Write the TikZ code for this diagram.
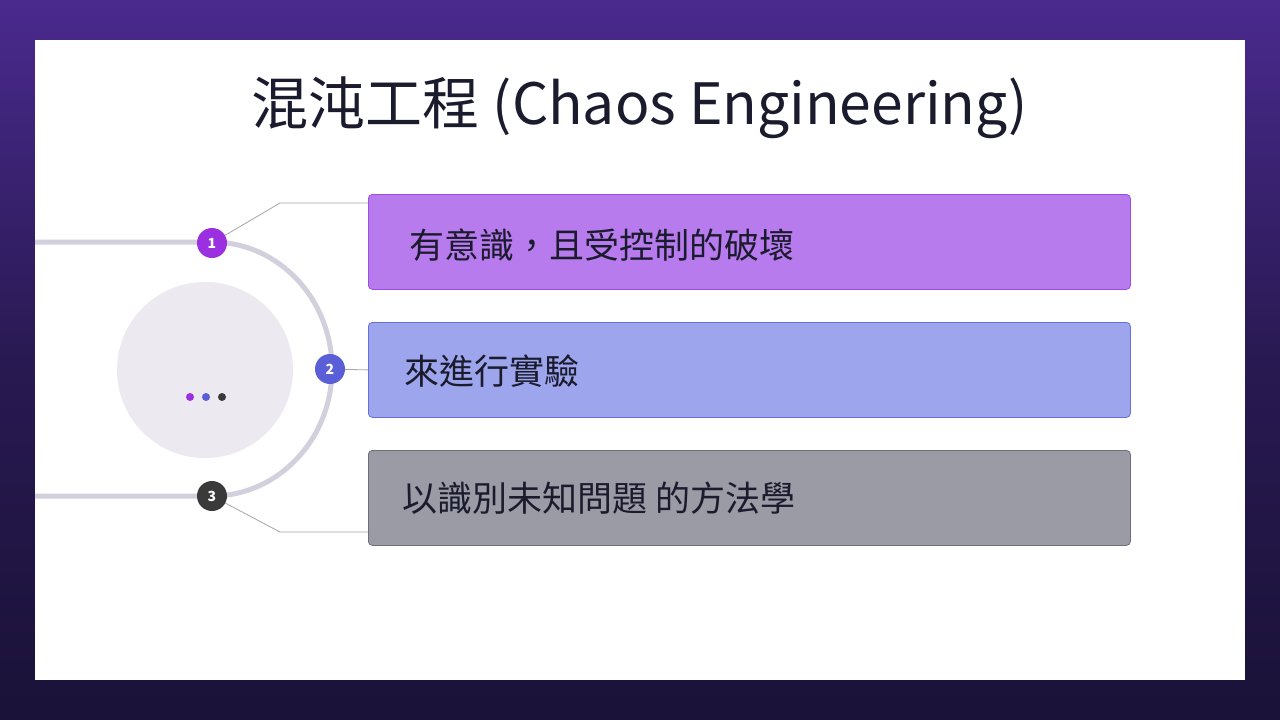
\documentclass[tikz,border=0pt]{standalone}
\usepackage{fontspec}
\setmainfont{Noto Sans CJK TC}
\definecolor{bgA}{HTML}{1A1238}
\definecolor{bgB}{HTML}{4A2A8E}
\definecolor{trk}{HTML}{D2D0DD}
\definecolor{ink}{HTML}{1B1B2E}
\definecolor{cg}{HTML}{ECE9F0}
\definecolor{fA}{HTML}{B87BEE}\definecolor{dA}{HTML}{9A4DE0}
\definecolor{fB}{HTML}{9DA5EC}\definecolor{dB}{HTML}{6670DD}
\definecolor{fC}{HTML}{9A9BA5}\definecolor{dC}{HTML}{6E6E78}
\definecolor{mA}{HTML}{9B30E0}\definecolor{mB}{HTML}{5A5FD8}\definecolor{mC}{HTML}{3A3A3A}
\begin{document}
\begin{tikzpicture}[x=1pt,y=-1pt,
 box/.style={draw,line width=0.8pt,rounded corners=4pt},
 btxt/.style={anchor=west,font=\fontsize{35}{40}\selectfont,text=ink},
 mk/.style={circle,minimum size=30pt,inner sep=0pt,text=white,font=\fontsize{14}{16}\selectfont\bfseries},
 con/.style={draw=gray!70,line width=0.8pt}]
\useasboundingbox (0,0) rectangle (1280,720);
\shade[top color=bgB,bottom color=bgA,middle color=bgA!70!bgB] (0,0) rectangle (1280,720);
\fill[white] (35,40) rectangle (1245,680);
\node[font=\fontsize{57}{64}\selectfont,text=ink] (title) at (640,108) {混沌工程 (Chaos Engineering)};
% track
\draw[trk,line width=5pt] (35,242) -- (212,242) arc[start angle=-90,end angle=90,x radius=120,y radius=127] -- (35,496);
\fill[cg] (205,370) circle[radius=88];
\fill[mA] (190,397) circle[radius=4];
\fill[mB] (206,397) circle[radius=4];
\fill[mC] (222,397) circle[radius=4];
% boxes
\node[box,fill=fA,draw=dA,minimum width=762pt,minimum height=95pt,anchor=north west] (b1) at (368,194) {};
\node[box,fill=fB,draw=dB,minimum width=762pt,minimum height=95pt,anchor=north west] (b2) at (368,322) {};
\node[box,fill=fC,draw=dC,minimum width=762pt,minimum height=95pt,anchor=north west] (b3) at (368,450) {};
\node[btxt] (t1) at (406,245) {有意識，且受控制的破壞};
\node[btxt] (t2) at (401,371) {來進行實驗};
\node[btxt] (t3) at (399,498) {以識別未知問題 的方法學};
% markers
\coordinate (c1) at (368,203);
\coordinate (c3) at (368,532);
\node[mk,fill=mA] (m1) at (212,243) {1};
\node[mk,fill=mB] (m2) at (330,369) {2};
\node[mk,fill=mC] (m3) at (212,496) {3};
\draw[con] (m1) -- (280,203) -- (c1);
\draw[con] (m2) -- (b2.west);
\draw[con] (m3) -- (280,532) -- (c3);
\end{tikzpicture}
\end{document}
